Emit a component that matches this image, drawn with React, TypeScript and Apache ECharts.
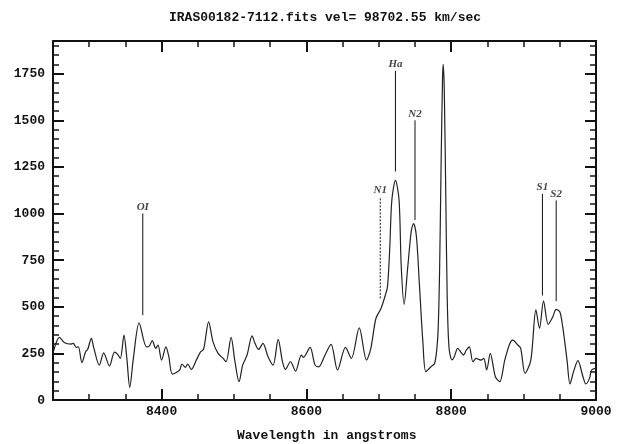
import { useEffect, useRef } from "react";
import * as echarts from "echarts";

const chartTitle = "IRAS00182-7112.fits vel= 98702.55 km/sec";
const xAxisTitle = "Wavelength in angstroms";

const wavelength = [
  8250, 8259, 8266, 8275, 8278, 8282, 8285, 8290, 8295, 8298, 8303, 8306, 8314, 8320, 8328, 8335,
  8339, 8343, 8348, 8352, 8356, 8361, 8369, 8379, 8383, 8387, 8392, 8395, 8400, 8406, 8410, 8415,
  8425, 8428, 8433, 8436, 8441, 8448, 8454, 8458, 8465, 8471, 8478, 8485, 8489, 8496, 8501, 8507,
  8512, 8518, 8525, 8529, 8534, 8540, 8547, 8554, 8561, 8567, 8571, 8578, 8585, 8593, 8596, 8605,
  8612, 8617, 8625, 8634, 8643, 8654, 8662, 8673, 8683, 8689, 8696, 8703, 8709, 8712, 8715, 8718,
  8723, 8728, 8731, 8735, 8740, 8745, 8748, 8752, 8756, 8761, 8765, 8772, 8777, 8780, 8782, 8784,
  8786, 8788, 8789, 8790.5, 8792.5, 8794.5, 8797, 8801, 8804, 8809, 8814, 8817, 8821, 8825, 8830,
  8834.5, 8838, 8841, 8845, 8849, 8854, 8861, 8867, 8874, 8881, 8885, 8892, 8896, 8902, 8910, 8917,
  8922, 8927.5, 8934, 8940, 8945, 8950, 8954, 8960, 8964, 8969, 8975, 8982, 8986, 8991, 8994, 9000,
];
const flux = [
  250, 336, 307, 300, 304, 282, 285, 200, 259, 272, 330, 285, 187, 253, 182, 257,
  246, 223, 348, 223, 68, 223, 414, 285, 289, 318, 277, 295, 214, 285, 232, 139,
  161, 193, 175, 193, 164, 214, 259, 272, 419, 312, 250, 223, 205, 336, 214, 98,
  187, 241, 344, 304, 271, 304, 232, 187, 325, 205, 164, 205, 155, 241, 229, 282,
  187, 178, 235, 298, 161, 282, 223, 387, 214, 277, 437, 491, 562, 607, 803, 1071,
  1178, 1071, 714, 513, 714, 911, 946, 875, 625, 304, 152, 178, 196, 268, 380, 700,
  1250, 1720, 1800, 1650, 1100, 550, 280, 215, 229, 277, 253, 241, 268, 285, 205,
  223, 218, 214, 223, 161, 250, 125, 98, 214, 303, 321, 295, 277, 143, 214, 483,
  384, 532, 405, 443, 486, 473, 393, 214, 86, 152, 211, 125, 86, 116, 161, 171,
];

const X_MIN = 8250;
const X_MAX = 9000;
const X_MINOR = 50;
const xMajorTicks = [8400, 8600, 8800, 9000];
const Y_MIN = 0;
const Y_MAX = 1925;
const Y_MAJOR = 250;
const Y_MINOR = 50;

const lineNames = ["OI", "N1", "Ha", "N2", "S1", "S2"];
const lineWavelengths = [8374, 8702, 8723, 8750, 8926, 8945];
const lineBottoms = [455, 545, 1225, 965, 560, 530];
const lineTops = [1000, 1090, 1765, 1500, 1105, 1070];
const lineDashed = [false, true, false, false, false, false];

const INK = "#111";
const MONO = "Liberation Mono";

export default function App() {
  const ref = useRef<HTMLDivElement>(null);

  useEffect(() => {
    if (!ref.current) return;
    const chart = echarts.init(ref.current, undefined, { renderer: "svg" });

    const majorTick = (extra: object = {}) => ({
      show: true,
      inside: true,
      length: 11,
      lineStyle: { color: "#121212", width: 2 },
      ...extra,
    });
    const minorTick = () => ({
      show: true,
      inside: true,
      length: 6,
      lineStyle: { color: "#141414", width: 1.5 },
    });
    const lineOn = () => ({ show: true, onZero: false, lineStyle: { color: INK, width: 2 } });
    const lineOff = () => ({ show: false, onZero: false });
    const noLabel = () => ({ show: false });
    const noSplit = () => ({ show: false });

    const xy = wavelength.map((w, i) => [w, flux[i]]);

    const annotationLines = lineNames.map((name, i) => ({
      type: "line",
      name,
      xAxisIndex: 0,
      yAxisIndex: 0,
      silent: true,
      showSymbol: false,
      symbol: "none",
      data: [
        [lineWavelengths[i], lineBottoms[i]],
        [lineWavelengths[i], lineTops[i]],
      ],
      lineStyle: { color: INK, width: 1, type: lineDashed[i] ? [2, 1.5] : "solid" },
    }));

    const annotationLabels = {
      type: "scatter",
      xAxisIndex: 0,
      yAxisIndex: 0,
      silent: true,
      symbolSize: 0,
      itemStyle: { color: "transparent" },
      data: lineNames.map((name, i) => ({ name, value: [lineWavelengths[i], lineTops[i]] })),
      label: {
        show: true,
        position: "top",
        distance: 2,
        formatter: "{b}",
        color: INK,
        fontFamily: "Liberation Serif",
        fontStyle: "italic",
        fontWeight: "bold",
        fontSize: 11,
      },
    };

    chart.setOption({
      animation: false,
      title: [
        {
          text: chartTitle,
          left: 169,
          top: 11,
          padding: 0,
          textStyle: { color: INK, fontFamily: MONO, fontWeight: "bold", fontSize: 13 },
        },
        {
          text: xAxisTitle,
          left: 237,
          top: 429,
          padding: 0,
          textStyle: { color: INK, fontFamily: MONO, fontWeight: "bold", fontSize: 13 },
        },
      ],
      grid: { left: 53, right: 23, top: 41, bottom: 44 },
      xAxis: [
        {
          type: "value",
          min: X_MIN,
          max: X_MAX,
          position: "bottom",
          axisLine: lineOn(),
          axisTick: majorTick({ customValues: xMajorTicks }),
          axisLabel: {
            customValues: xMajorTicks,
            margin: 5,
            color: INK,
            fontFamily: MONO,
            fontWeight: "bold",
            fontSize: 13,
            formatter: (v: number) => String(v),
          },
          splitLine: noSplit(),
        },
        {
          type: "value",
          min: X_MIN,
          max: X_MAX,
          interval: X_MINOR,
          position: "bottom",
          axisLine: lineOff(),
          axisTick: minorTick(),
          axisLabel: noLabel(),
          splitLine: noSplit(),
        },
        {
          type: "value",
          min: X_MIN,
          max: X_MAX,
          position: "top",
          axisLine: lineOn(),
          axisTick: majorTick({ customValues: xMajorTicks }),
          axisLabel: noLabel(),
          splitLine: noSplit(),
        },
        {
          type: "value",
          min: X_MIN,
          max: X_MAX,
          interval: X_MINOR,
          position: "top",
          axisLine: lineOff(),
          axisTick: minorTick(),
          axisLabel: noLabel(),
          splitLine: noSplit(),
        },
      ],
      yAxis: [
        {
          type: "value",
          min: Y_MIN,
          max: Y_MAX,
          interval: Y_MAJOR,
          position: "left",
          axisLine: lineOn(),
          axisTick: majorTick(),
          axisLabel: {
            margin: 8,
            showMaxLabel: false,
            color: INK,
            fontFamily: MONO,
            fontWeight: "bold",
            fontSize: 13,
            formatter: (v: number) => String(v),
          },
          splitLine: noSplit(),
        },
        {
          type: "value",
          min: Y_MIN,
          max: Y_MAX,
          interval: Y_MINOR,
          position: "left",
          axisLine: lineOff(),
          axisTick: minorTick(),
          axisLabel: noLabel(),
          splitLine: noSplit(),
        },
        {
          type: "value",
          min: Y_MIN,
          max: Y_MAX,
          interval: Y_MAJOR,
          position: "right",
          axisLine: lineOn(),
          axisTick: majorTick(),
          axisLabel: noLabel(),
          splitLine: noSplit(),
        },
        {
          type: "value",
          min: Y_MIN,
          max: Y_MAX,
          interval: Y_MINOR,
          position: "right",
          axisLine: lineOff(),
          axisTick: minorTick(),
          axisLabel: noLabel(),
          splitLine: noSplit(),
        },
      ],
      series: [
        {
          type: "line",
          name: "spectrum",
          xAxisIndex: 0,
          yAxisIndex: 0,
          data: xy,
          showSymbol: false,
          symbol: "none",
          smooth: 0.3,
          lineStyle: { color: "#222", width: 1.2 },
        },
        ...annotationLines,
        annotationLabels,
      ],
    });

    return () => chart.dispose();
  }, []);

  return <div ref={ref} style={{ position: "fixed", left: 0, top: 0, width: 619, height: 444 }} />;
}
